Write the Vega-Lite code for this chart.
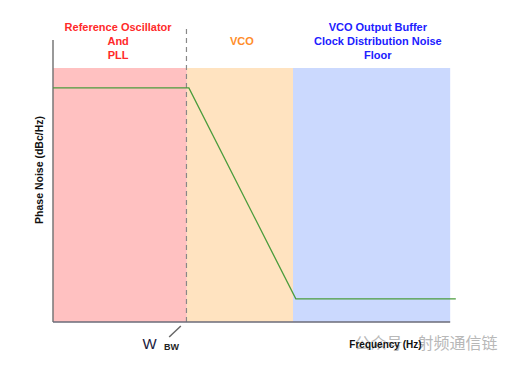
{
  "$schema": "https://vega.github.io/schema/vega-lite/v6.json",
  "width": 402,
  "height": 282,
  "autosize": {"type": "none"},
  "padding": {"left": 53, "top": 40, "right": 60, "bottom": 45},
  "background": "white",
  "config": {"view": {"stroke": null}, "font": "Liberation Sans"},
  "resolve": {"scale": {"color": "independent"}},
  "datasets": {
    "bands": [
      {"region": "ref", "x": 0, "x2": 33.3, "y": 0, "y2": 90.1},
      {"region": "vco", "x": 33.3, "x2": 59.7, "y": 0, "y2": 90.1},
      {"region": "floor", "x": 59.7, "x2": 98.8, "y": 0, "y2": 90.1}
    ],
    "curve": [
      {"f": 0, "noise": 83.0},
      {"f": 33.8, "noise": 83.0},
      {"f": 60.4, "noise": 8.2},
      {"f": 100.2, "noise": 8.2}
    ],
    "axes": [
      {"name": "yaxis", "x": 0, "x2": 0, "y": 0, "y2": 100},
      {"name": "xaxis", "x": 0, "x2": 98.8, "y": 0, "y2": 0},
      {"name": "tick", "x": 28.9, "x2": 31.8, "y": -5.3, "y2": -1.4}
    ],
    "dash": [
      {"x": 33.2, "y": 0, "y2": 104.6}
    ],
    "heads": [
      {"region": "ref", "label": "Reference Oscillator", "x": 16.2, "y": 104.4},
      {"region": "ref", "label": "And", "x": 16.2, "y": 99.2},
      {"region": "ref", "label": "PLL", "x": 16.2, "y": 94.4},
      {"region": "vco", "label": "VCO", "x": 47.0, "y": 99.2},
      {"region": "floor", "label": "VCO Output Buffer", "x": 80.8, "y": 104.4},
      {"region": "floor", "label": "Clock Distribution Noise", "x": 80.8, "y": 99.2},
      {"region": "floor", "label": "Floor", "x": 80.8, "y": 94.4}
    ],
    "watermark": [
      {"label": "公众号", "x": 81.0, "y": -7.8},
      {"label": "射频通信链", "x": 100.6, "y": -7.8}
    ],
    "ytitle": [{"label": "Phase Noise (dBc/Hz)", "x": -3.2, "y": 53.9}],
    "wlabel": [{"label": "W", "x": 24.0, "y": -7.8}],
    "bwlabel": [{"label": "BW", "x": 29.5, "y": -8.9}],
    "xtitle": [{"label": "Frequency (Hz)", "x": 82.7, "y": -8.2}]
  },
  "layer": [
    {
      "data": {"name": "bands"},
      "mark": {"type": "rect", "clip": false},
      "encoding": {
        "x": {"field": "x", "type": "quantitative", "scale": {"domain": [0, 100]}, "axis": null},
        "x2": {"field": "x2"},
        "y": {"field": "y", "type": "quantitative", "scale": {"domain": [0, 100]}, "axis": null},
        "y2": {"field": "y2"},
        "color": {"field": "region", "type": "nominal", "legend": null,
          "scale": {"domain": ["ref", "vco", "floor"], "range": ["#ffc1c1", "#ffe3c0", "#cbd9fe"]}}
      }
    },
    {
      "data": {"name": "dash"},
      "mark": {"type": "rule", "clip": false, "color": "#888888", "strokeWidth": 1.2, "strokeDash": [5, 4]},
      "encoding": {
        "x": {"field": "x", "type": "quantitative"},
        "y": {"field": "y", "type": "quantitative"},
        "y2": {"field": "y2"}
      }
    },
    {
      "data": {"name": "axes"},
      "mark": {"type": "rule", "clip": false, "strokeWidth": 1.5},
      "encoding": {
        "x": {"field": "x", "type": "quantitative"},
        "x2": {"field": "x2"},
        "y": {"field": "y", "type": "quantitative"},
        "y2": {"field": "y2"},
        "color": {"field": "name", "type": "nominal", "legend": null,
          "scale": {"domain": ["yaxis", "xaxis", "tick"], "range": ["#777777", "#6b6b78", "#666666"]}}
      }
    },
    {
      "data": {"name": "curve"},
      "mark": {"type": "line", "clip": false, "color": "#4b9c3c", "strokeWidth": 1.3},
      "encoding": {
        "x": {"field": "f", "type": "quantitative"},
        "y": {"field": "noise", "type": "quantitative"}
      }
    },
    {
      "data": {"name": "heads"},
      "mark": {"type": "text", "fontSize": 11, "fontWeight": "bold", "align": "center", "baseline": "middle"},
      "encoding": {
        "x": {"field": "x", "type": "quantitative"},
        "y": {"field": "y", "type": "quantitative"},
        "text": {"field": "label"},
        "color": {"field": "region", "type": "nominal", "legend": null,
          "scale": {"domain": ["ref", "vco", "floor"], "range": ["#ff2a2a", "#ff8c2a", "#2020ff"]}}
      }
    },
    {
      "data": {"name": "watermark"},
      "mark": {"type": "text", "fontSize": 16, "color": "#b8b8b8", "align": "center", "baseline": "middle", "font": "Noto Sans CJK SC"},
      "encoding": {
        "x": {"field": "x", "type": "quantitative"},
        "y": {"field": "y", "type": "quantitative"},
        "text": {"field": "label"}
      }
    },
    {
      "data": {"name": "ytitle"},
      "mark": {"type": "text", "fontSize": 10.5, "fontWeight": "bold", "angle": 270, "color": "#111111", "align": "center", "baseline": "middle"},
      "encoding": {
        "x": {"field": "x", "type": "quantitative"},
        "y": {"field": "y", "type": "quantitative"},
        "text": {"field": "label"}
      }
    },
    {
      "data": {"name": "wlabel"},
      "mark": {"type": "text", "fontSize": 15, "color": "#1a1a40", "align": "center", "baseline": "middle"},
      "encoding": {
        "x": {"field": "x", "type": "quantitative"},
        "y": {"field": "y", "type": "quantitative"},
        "text": {"field": "label"}
      }
    },
    {
      "data": {"name": "bwlabel"},
      "mark": {"type": "text", "fontSize": 9, "fontWeight": "bold", "color": "#222222", "align": "center", "baseline": "middle"},
      "encoding": {
        "x": {"field": "x", "type": "quantitative"},
        "y": {"field": "y", "type": "quantitative"},
        "text": {"field": "label"}
      }
    },
    {
      "data": {"name": "xtitle"},
      "mark": {"type": "text", "fontSize": 10, "fontWeight": "bold", "color": "#111111", "align": "center", "baseline": "middle"},
      "encoding": {
        "x": {"field": "x", "type": "quantitative"},
        "y": {"field": "y", "type": "quantitative"},
        "text": {"field": "label"}
      }
    }
  ]
}
